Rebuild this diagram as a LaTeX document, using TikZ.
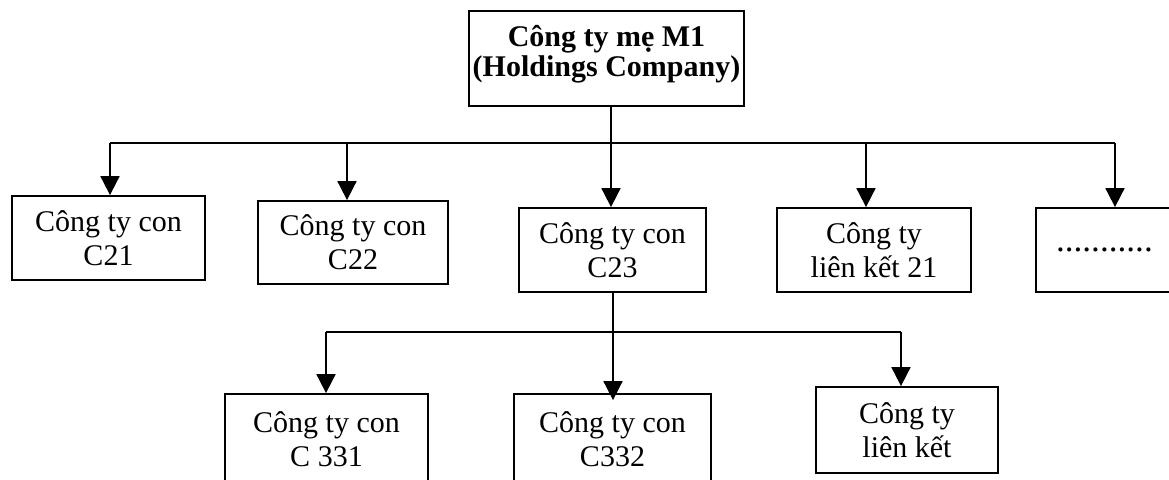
\documentclass[tikz,border=0pt]{standalone}
\usepackage{fontspec}
\setmainfont{Liberation Serif}
\usetikzlibrary{arrows.meta}
\tikzset{
  box/.style={draw,line width=0.9pt,align=center,inner sep=0pt,
    font=\fontsize{15pt}{17pt}\selectfont},
}
\begin{document}
\begin{tikzpicture}[x=0.5pt,y=-0.5pt,line width=0.9pt,
  >={Triangle[length=9.5pt,width=9.5pt]}]
\path[use as bounding box,clip] (0,0) rectangle (1169,479);
\path
(606.5,58.5) node[box,minimum width=137.5pt,minimum height=47.5pt] (m1)
  {\parbox[c][33pt][t]{136pt}{\centering\bfseries\fontsize{15pt}{15pt}\selectfont
   Công ty mẹ M1\\(Holdings Company)}}
(108.5,238) node[box,minimum width=96.5pt,minimum height=42pt] (c21) {Công ty con\\C21}
(353,242.5) node[box,minimum width=95pt,minimum height=41.5pt] (c22) {Công ty con\\C22}
(612.5,250) node[box,minimum width=93.5pt,minimum height=42pt] (c23) {Công ty con\\C23}
(874,250) node[box,minimum width=97pt,minimum height=42pt] (lk21) {Công ty\\liên kết 21}
(1131,250) node[box,minimum width=95pt,minimum height=42pt,text width=75pt,align=left,
  font=\fontsize{17.6pt}{20pt}\selectfont] (more) {...........}
(326.5,439) node[box,minimum width=101.5pt,minimum height=45pt] (c331) {Công ty con\\C 331}
(612.5,439) node[box,minimum width=98.5pt,minimum height=45pt] (c332) {Công ty con\\C332}
(907,430) node[box,minimum width=91pt,minimum height=43pt] (lk) {Công ty\\liên kết};
% first level
\coordinate (t21) at (110,143);
\coordinate (t22) at (347,143);
\coordinate (t23) at (611,143);
\coordinate (t24) at (866,143);
\coordinate (t25) at (1115,143);
\draw (t21)--(t25);
\draw[->] (m1.south -| t23)--(t23 |- c23.north);
\draw[->] (t21)--(t21 |- c21.north);
\draw[->] (t22)--(t22 |- c22.north);
\draw[->] (t24)--(t24 |- lk21.north);
\draw[->] (t25)--(t25 |- more.north);
% second level
\coordinate (s31) at (326,332);
\coordinate (s32) at (613,332);
\coordinate (s33) at (901,332);
\draw (s31)--(s33);
\draw[->,shorten >=-3.5pt] (c23.south -| s32)--(s32 |- c332.north);
\draw[->] (s31)--(s31 |- c331.north);
\draw[->] (s33)--(s33 |- lk.north);
\end{tikzpicture}
\end{document}
